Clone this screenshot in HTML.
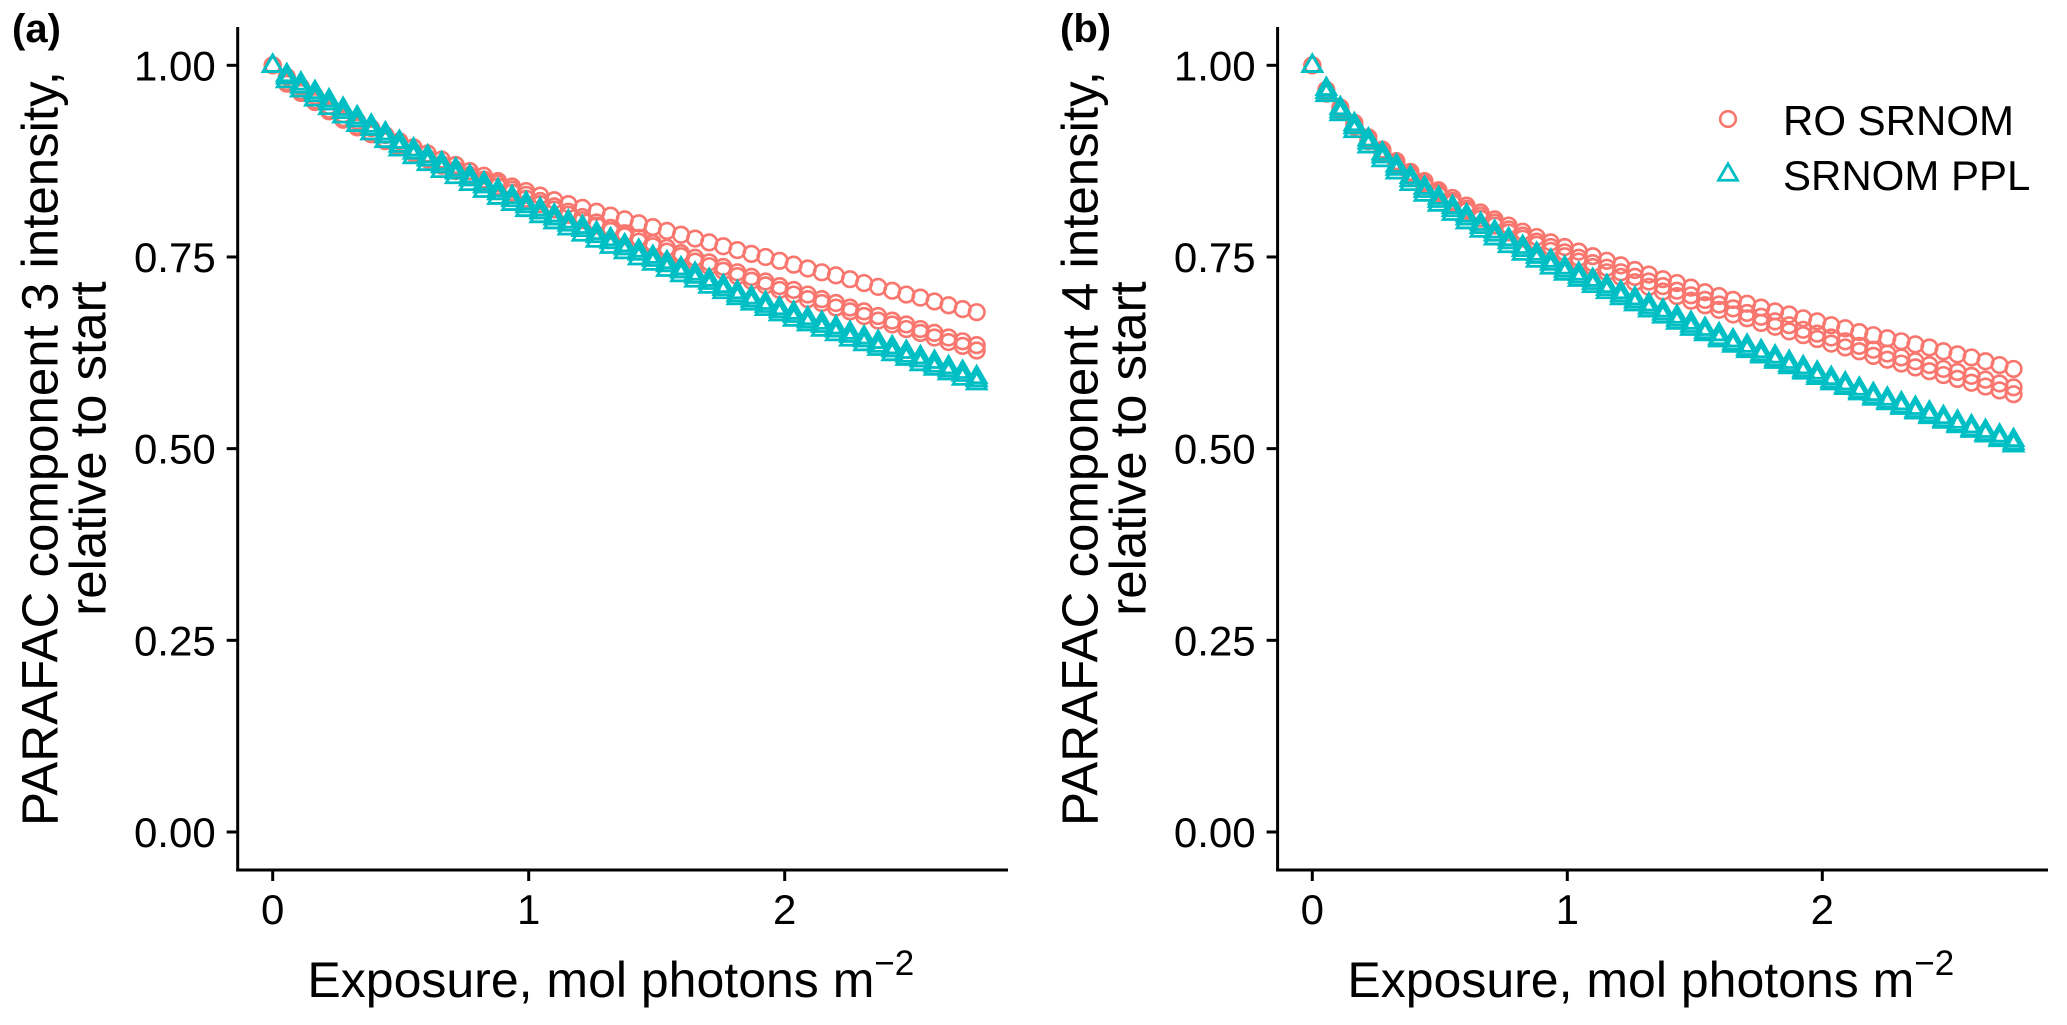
<!DOCTYPE html>
<html><head><meta charset="utf-8"><style>
html,body{margin:0;padding:0;background:#fff;}
svg{display:block;font-family:"Liberation Sans",Arial,sans-serif;}
</style></head><body>
<svg id="chart" width="2067" height="1025" viewBox="0 0 2067 1025"></svg>
<script>
// ---- data ----
const xStep = 0.055;
const xTicks = [0, 1, 2];
const xTickLabels = ["0", "1", "2"];
const yTicks = [0, 0.25, 0.5, 0.75, 1];
const yTickLabels = ["0.00", "0.25", "0.50", "0.75", "1.00"];
const seriesNames = ["RO SRNOM", "SRNOM PPL"];

// Panel (a) component 3
const aRed1 = [1.000,.985,.972,.960,.947,.936,.927,.918,.909,.901,.893,.885,.877,.870,.862,.856,.849,.842,.836,.830,.824,.819,.814,.809,.804,.799,.794,.789,.784,.779,.774,.769,.764,.759,.754,.750,.745,.740,.735,.730,.726,.721,.716,.711,.706,.701,.697,.692,.687,.682,.678];
const aRed2 = [1.000,.978,.966,.954,.942,.931,.921,.912,.903,.895,.887,.879,.871,.864,.857,.851,.846,.838,.831,.823,.816,.809,.802,.795,.788,.781,.775,.768,.762,.755,.749,.743,.737,.730,.724,.718,.712,.707,.701,.695,.690,.684,.679,.673,.667,.662,.656,.651,.645,.640,.635];
const aRed3 = [1.000,.976,.964,.952,.940,.929,.919,.910,.901,.893,.885,.877,.869,.862,.855,.848,.842,.834,.826,.819,.812,.805,.798,.791,.784,.777,.770,.764,.757,.751,.744,.738,.732,.725,.719,.713,.707,.701,.695,.690,.684,.679,.673,.667,.662,.656,.651,.645,.639,.634,.628];
const aCyan1 = [1.000,.985,.973,.962,.951,.940,.929,.918,.908,.896,.887,.878,.869,.861,.852,.843,.834,.825,.817,.809,.801,.793,.786,.778,.770,.762,.755,.747,.740,.732,.725,.717,.709,.701,.694,.687,.680,.674,.667,.661,.655,.648,.642,.635,.629,.622,.616,.609,.603,.597,.590];
const aCyan2 = [1.000,.980,.968,.956,.945,.934,.923,.912,.902,.891,.881,.872,.863,.855,.846,.837,.828,.820,.812,.804,.796,.788,.780,.772,.764,.757,.749,.742,.734,.727,.720,.712,.705,.697,.690,.683,.676,.669,.663,.656,.650,.643,.637,.631,.624,.618,.611,.605,.599,.592,.586];
const aCyan3 = [1.000,.988,.977,.966,.955,.944,.933,.922,.912,.901,.891,.882,.873,.865,.856,.847,.838,.829,.821,.813,.805,.797,.790,.782,.774,.766,.759,.751,.744,.736,.729,.721,.713,.705,.698,.691,.684,.678,.671,.665,.659,.652,.646,.640,.633,.627,.620,.614,.607,.601,.594];

// Panel (b) component 4
const bRed1 = [1.000,.968,.945,.925,.906,.890,.875,.861,.849,.837,.827,.817,.808,.799,.791,.783,.776,.769,.763,.757,.751,.745,.739,.733,.727,.721,.716,.710,.704,.699,.694,.689,.684,.679,.675,.670,.666,.661,.657,.652,.648,.644,.640,.636,.632,.627,.623,.619,.614,.609,.604];
const bRed2 = [1.000,.965,.942,.922,.903,.887,.872,.858,.846,.834,.823,.813,.804,.795,.786,.778,.770,.763,.756,.749,.742,.736,.730,.724,.718,.712,.706,.700,.694,.688,.683,.677,.672,.666,.661,.655,.650,.645,.640,.634,.629,.624,.619,.614,.609,.604,.600,.595,.590,.585,.580];
const bRed3 = [1.000,.963,.940,.920,.901,.885,.870,.856,.843,.831,.820,.810,.800,.791,.782,.774,.766,.758,.751,.744,.737,.730,.724,.717,.711,.705,.699,.693,.687,.681,.675,.670,.664,.659,.653,.648,.643,.637,.632,.627,.621,.616,.611,.606,.601,.596,.591,.586,.581,.576,.571];
const bCyan1 = [1.000,.966,.941,.920,.900,.882,.866,.851,.837,.824,.812,.801,.790,.780,.770,.760,.751,.742,.733,.725,.717,.709,.701,.693,.685,.677,.669,.661,.653,.645,.638,.631,.624,.617,.610,.603,.596,.589,.582,.575,.568,.562,.556,.550,.544,.538,.532,.526,.520,.514,.508];
const bCyan2 = [1.000,.962,.937,.915,.895,.877,.861,.846,.832,.819,.807,.796,.785,.775,.765,.755,.746,.737,.729,.721,.713,.705,.697,.689,.681,.673,.665,.657,.650,.642,.635,.628,.621,.614,.607,.600,.593,.586,.580,.573,.566,.560,.554,.548,.542,.536,.530,.524,.518,.512,.505];
const bCyan3 = [1.000,.970,.945,.924,.904,.886,.870,.855,.841,.828,.816,.805,.794,.784,.774,.764,.755,.746,.737,.729,.721,.713,.705,.697,.689,.681,.673,.665,.657,.650,.642,.635,.628,.621,.614,.607,.600,.593,.586,.579,.572,.566,.560,.554,.548,.542,.536,.530,.524,.518,.512];

const panels = [
  {id:"a", label:"(a)", x0:272.7, xu:256.0, axisL:237.7, axisR:1008, titleX:[40,88], labelX:12,
   ytitle:["PARAFAC component 3 intensity,","relative to start"],
   red:[aRed1,aRed2,aRed3], cyan:[aCyan1,aCyan2,aCyan3], legend:false},
  {id:"b", label:"(b)", x0:1312.3, xu:255.0, axisL:1277.6, axisR:2048, titleX:[1080,1128], labelX:1060,
   ytitle:["PARAFAC component 4 intensity,","relative to start"],
   red:[bRed1,bRed2,bRed3], cyan:[bCyan1,bCyan2,bCyan3], legend:true}
];

const NS = "http://www.w3.org/2000/svg";
const svg = document.getElementById("chart");
const Y0 = 832, YU = 766.7, AXY = 870, TOP = 27;
function yS(v){ return Y0 - v*YU; }
function mk(tag, attrs, parent){
  const e = document.createElementNS(NS, tag);
  for (const k in attrs) e.setAttribute(k, attrs[k]);
  (parent||svg).appendChild(e);
  return e;
}
const RED = "#F8766D", CYAN = "#00BFC4";
function tri(cx, cy, s){
  const h = s*0.866;
  return (cx)+","+(cy-h*0.62)+" "+(cx-s/2)+","+(cy+h*0.38)+" "+(cx+s/2)+","+(cy+h*0.38);
}

panels.forEach(p => {
  const xS = v => p.x0 + v*p.xu;
  const g = mk("g", {});
  
  

  const lab = mk("text", {x:p.labelX, y:42, "font-size":40, "font-weight":"bold", fill:"#000"}, g);
  lab.textContent = p.label;
  
  

  const sg = mk("g", {}, g);
  
  
  p.red.forEach(arr => {
    arr.forEach((v, i) => {
      const c = mk("circle", {cx:xS(i*xStep), cy:yS(v), r:7.8, fill:"none", stroke:RED, "stroke-width":2.6}, sg);
      
      
    });
  });
  const tg = mk("g", {}, g);
  
  
  p.cyan.forEach(arr => {
    arr.forEach((v, i) => {
      const t = mk("polygon", {points:tri(xS(i*xStep), yS(v), 19), fill:"none", stroke:CYAN, "stroke-width":2.8, "stroke-linejoin":"miter"}, tg);
      
      
    });
  });

  const ya = mk("line", {x1:p.axisL, y1:TOP, x2:p.axisL, y2:AXY+1.5, stroke:"#000", "stroke-width":3}, g);
  
  
  const xa = mk("line", {x1:p.axisL-1.5, y1:AXY, x2:p.axisR, y2:AXY, stroke:"#000", "stroke-width":3}, g);
  
  

  yTicks.forEach((v, i) => {
    const y = yS(v);
    const tk = mk("line", {x1:p.axisL-11, y1:y, x2:p.axisL, y2:y, stroke:"#000", "stroke-width":3}, g);
    
    
    const t = mk("text", {x:p.axisL-22, y:y+15, "font-size":42, "text-anchor":"end", fill:"#000"}, g);
    t.textContent = yTickLabels[i];
    
    
  });
  xTicks.forEach((v, i) => {
    const x = xS(v);
    const tk = mk("line", {x1:x, y1:AXY, x2:x, y2:AXY+11, stroke:"#000", "stroke-width":3}, g);
    
    
    const t = mk("text", {x:x, y:924, "font-size":42, "text-anchor":"middle", fill:"#000"}, g);
    t.textContent = xTickLabels[i];
    
    
  });

  const xt = mk("text", {x:(p.axisL+p.axisR)/2 - 12, y:997, "font-size":50, "text-anchor":"middle", fill:"#000"}, g);
  
  
  xt.appendChild(document.createTextNode("Exposure, mol photons m"));
  const sup = mk("tspan", {dy:-22, "font-size":35}, xt);
  sup.textContent = "\u22122";

  const cy = (TOP + AXY)/2;
  p.ytitle.forEach((s, k) => {
    const cx = p.titleX[k];
    const t = mk("text", {x:cx, y:cy, "font-size":51, "text-anchor":"middle", "dominant-baseline":"central", fill:"#000",
      transform:"rotate(-90 "+cx+" "+cy+")"}, g);
    t.textContent = s;
    
    
  });

  if (p.legend) {
    const lg = mk("g", {}, g);
    
    
    const c = mk("circle", {cx:1728, cy:119, r:7.8, fill:"none", stroke:RED, "stroke-width":2.6}, lg);
    
    
    const t1 = mk("text", {x:1783, y:135, "font-size":42, fill:"#000"}, lg);
    t1.textContent = seriesNames[0];
    
    
    const tr = mk("polygon", {points:tri(1728, 174, 19), fill:"none", stroke:CYAN, "stroke-width":2.8}, lg);
    
    
    const t2 = mk("text", {x:1783, y:190, "font-size":42, fill:"#000"}, lg);
    t2.textContent = seriesNames[1];
    
    
  }
});
</script>
</body></html>
